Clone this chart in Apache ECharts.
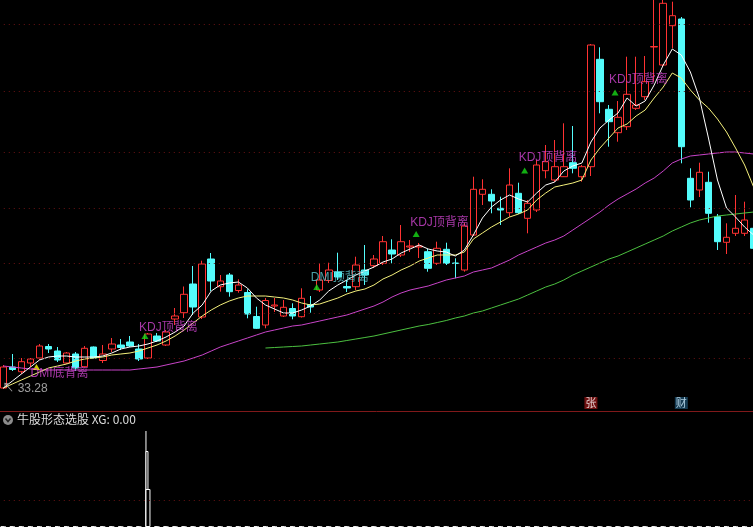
<!DOCTYPE html>
<html><head><meta charset="utf-8">
<script src="https://cdn.jsdelivr.net/npm/echarts@6/dist/echarts.min.js"></script>
<style>html,body{margin:0;padding:0;background:#000;}#c{width:753px;height:527px;}</style>
</head><body><div id="c"></div>
<script>
const days = Array.from({length: 84}, (_, i) => 'D' + (i + 1));
// [open, close, low, high]
const candles = [
[33.38,35.48,33.28,35.68],[35.48,35.23,35.08,36.78],[35.01,36.01,34.78,36.38],[35.88,36.28,35.48,36.38],
[36.38,37.58,36.18,37.78],[37.53,37.28,36.88,37.78],[37.08,36.18,35.98,37.48],[35.88,36.88,35.78,36.98],
[36.78,35.38,35.08,36.98],[35.51,37.35,35.43,37.58],[37.48,36.38,36.33,37.53],[36.13,36.78,35.88,37.68],
[37.28,37.78,36.98,38.38],[37.68,37.43,37.18,38.28],[37.98,37.58,37.48,38.58],[37.28,36.28,36.08,37.78],
[36.38,38.78,36.28,38.88],[38.58,38.08,37.98,38.88],[37.68,38.98,37.58,39.18],[40.28,40.58,39.68,41.38],
[40.91,42.75,40.38,43.53],[43.78,41.48,40.68,45.58],[40.48,45.78,40.28,46.11],[46.28,44.08,43.08,46.88],
[43.51,44.08,43.01,44.68],[44.68,43.01,42.51,44.88],[43.13,43.68,42.91,44.25],[42.93,40.78,40.35,43.25],
[40.53,39.35,39.28,41.51],[39.68,42.13,39.35,42.38],[41.58,41.68,40.98,42.38],[40.58,41.45,40.48,42.18],
[41.33,40.58,40.25,41.85],[40.51,42.35,40.43,43.35],[41.73,41.48,40.91,42.58],[43.18,44.18,42.98,45.88],
[44.13,45.18,43.88,45.91],[44.98,44.48,44.18,46.91],[43.53,43.38,42.98,44.18],[43.51,45.68,43.18,46.51],
[45.18,44.68,43.68,47.68],[45.61,46.28,45.38,46.68],[45.85,48.01,45.68,48.58],[47.18,46.78,45.85,48.25],
[46.68,48.01,46.48,49.68],[47.48,47.58,46.98,48.18],[47.48,47.58,46.38,47.88],[47.01,45.35,45.01,47.28],
[45.85,47.35,45.68,48.01],[47.25,45.85,45.68,47.91],[45.88,45.83,44.35,46.35],[45.18,49.58,45.01,49.91],
[48.68,53.25,48.58,54.51],[52.75,53.25,51.68,54.25],[52.75,52.08,50.85,53.25],[51.35,51.18,49.68,52.51],
[50.91,53.68,50.51,55.35],[52.85,50.91,50.78,53.91],[50.35,51.85,48.85,52.18],[51.18,55.68,50.98,56.18],
[55.11,56.01,54.35,57.68],[54.18,55.51,53.98,58.18],[54.51,55.51,54.48,59.85],[55.91,55.35,54.85,59.58],
[54.51,55.51,54.01,55.68],[55.51,67.68,54.58,67.78],[66.25,62.01,60.85,67.45],[61.25,60.01,57.51,61.68],
[58.91,60.45,58.01,62.08],[59.51,62.75,59.18,66.51],[61.35,61.68,61.18,66.51],[62.51,64.01,62.18,66.58],
[67.48,67.53,64.01,72.68],[65.68,71.85,65.58,72.68],[69.61,70.61,67.35,72.01],[70.28,57.51,55.85,70.48],
[54.35,52.18,51.45,55.35],[53.18,54.95,52.48,55.91],[53.95,50.85,49.91,55.01],[50.51,48.01,47.18,50.78],
[47.95,48.45,46.78,49.85],[48.85,49.35,48.58,52.68],[48.85,50.18,48.58,52.01],[49.35,47.35,46.98,50.18]
];
const maWhite = [33.38,34.08,34.78,35.48,36.18,36.48,36.58,36.58,36.48,36.48,36.48,36.58,36.88,37.28,37.48,37.58,
37.78,38.08,38.48,38.98,39.58,40.88,41.68,43.08,43.68,43.88,43.98,43.38,42.38,41.68,41.28,40.88,40.88,41.18,41.58,
42.18,43.08,43.68,44.18,44.68,45.08,45.48,45.98,46.28,46.88,47.28,47.68,47.28,47.08,46.98,46.58,47.18,48.68,50.38,
51.48,52.18,52.68,52.28,51.98,52.88,53.68,53.98,55.08,55.58,55.88,57.98,59.38,60.18,60.88,62.38,61.58,62.08,63.68,
65.68,67.28,66.68,64.98,62.38,58.38,54.18,51.38,50.48,49.48,48.68];
const maYellow = [33.38,33.78,34.18,34.58,34.98,35.38,35.58,35.78,36.08,36.28,36.38,36.48,36.68,36.78,36.88,37.08,
37.38,37.68,38.08,38.58,39.18,39.88,40.58,41.18,41.68,42.08,42.38,42.58,42.58,42.58,42.48,42.38,42.18,41.88,41.68,
41.78,42.08,42.38,42.78,43.08,43.28,43.68,44.28,44.68,45.18,45.58,46.08,46.38,46.68,46.68,46.68,46.98,48.28,48.88,
49.48,49.98,50.48,50.78,51.18,52.18,52.88,53.48,53.68,53.88,54.18,56.18,57.38,58.38,59.38,59.78,60.58,61.18,62.38,
63.48,64.88,64.38,63.18,62.18,61.38,60.28,58.98,57.38,55.68,53.48];
const maMagenta = [35.58,35.48,35.38,35.28,35.18,35.18,35.18,35.18,35.18,35.18,35.18,35.18,35.18,35.18,35.18,35.28,
35.38,35.48,35.68,35.88,36.08,36.38,36.68,37.08,37.48,37.78,38.08,38.38,38.68,38.98,39.18,39.38,39.58,39.68,39.88,
40.08,40.28,40.48,40.68,40.98,41.28,41.58,41.98,42.48,42.88,43.18,43.38,43.58,43.88,44.18,44.38,44.58,44.98,45.18,
45.38,45.78,46.18,46.68,47.08,47.48,47.88,48.18,48.58,49.18,49.78,50.38,50.98,51.68,52.28,52.78,53.28,53.88,54.38,
55.08,55.88,56.28,56.58,56.68,56.78,56.88,56.98,56.98,56.88,56.78];
const maGreen = [null,null,null,null,null,null,null,null,null,null,null,null,null,null,null,null,null,null,null,null,
null,null,null,null,null,null,null,null,null,
37.38,37.43,37.48,37.53,37.58,37.68,37.78,37.88,37.98,38.13,38.28,38.43,38.58,38.78,38.98,39.18,39.38,39.58,39.73,
39.93,40.13,40.38,40.58,40.88,41.08,41.38,41.68,41.98,42.28,42.68,43.08,43.48,43.78,44.18,44.68,45.08,45.48,45.88,
46.28,46.58,46.98,47.38,47.78,48.18,48.58,49.08,49.48,49.88,50.18,50.38,50.58,50.68,50.78,50.88,50.98];
const gridLevels = [69.78, 63.08, 56.98, 51.38, 45.88, 40.88, 36.38];
const sigIndex = [4, 16, 35, 46, 58, 68];
const sigMarker = [35.48, 38.58, 43.48, 48.78, 55.13, 62.93];
const sigTextAt = [34.78, 39.43, 44.38, 49.93, 56.43, 64.23];
const sigText = ['DMI底背离', 'KDJ顶背离', 'DMI顶背离', 'KDJ顶背离', 'KDJ顶背离', 'KDJ顶背离'];
const tagIndex = [65, 75];
const tagText = ['张', '财'];
const tagLevel = 31.88;
const lowIndex = 0;
const lowValue = 33.28;
const xgIndex = 16;
const xgLevels = [82.76, 65.5, 32.76];
const xgLine = 23.28;

const chart = echarts.init(document.getElementById('c'), null, {renderer: 'canvas'});
const FONT = "'Liberation Sans','Noto Sans CJK SC',sans-serif";
const magenta = '#d045d0';
const sigColor = t => t === 'DMI顶背离' ? '#5cc8d0' : magenta;
const triColor = t => t.indexOf('底') >= 0 ? '#ffff00' : '#16d916';

const option = {
  backgroundColor: '#000',
  animation: false,
  grid: [
    {left: -1.2, top: 0, width: 759.36, height: 411, outerBoundsMode: 'none', containLabel: false},
    {left: -1.2, top: 411, width: 759.36, height: 116, outerBoundsMode: 'none', containLabel: false}
  ],
  xAxis: [
    {type: 'category', data: days, gridIndex: 0, boundaryGap: true,
     axisLine: {show: true, lineStyle: {color: '#80191a', width: 1}}, axisTick: {show: false}, axisLabel: {show: false}, splitLine: {show: false}},
    {type: 'category', data: days, gridIndex: 1, boundaryGap: true, show: false}
  ],
  yAxis: [
    {type: 'value', gridIndex: 0, min: 31.08, max: 72.18, show: false, splitLine: {show: false}},
    {type: 'value', gridIndex: 1, min: 0, max: 100, show: false, splitLine: {show: false}}
  ],
  graphic: [
    {type: 'circle', shape: {cx: 8, cy: 420, r: 5}, style: {fill: '#8c8c8c'}},
    {type: 'polyline', shape: {points: [[5.5, 418.5], [8, 421.5], [10.5, 418.5]]}, style: {stroke: '#202020', lineWidth: 1.5, fill: null}},
    {type: 'text', left: 17, top: 413, style: {text: '牛股形态选股 XG: 0.00', fill: '#dcdcdc', font: "12px 'Noto Sans CJK SC', sans-serif"}}
  ],
  series: [
    {
      type: 'candlestick', xAxisIndex: 0, yAxisIndex: 0, data: candles, barWidth: 7,
      itemStyle: {color: '#000000', color0: '#54fcfc', borderColor: '#ff3232', borderColor0: '#54fcfc', borderWidth: 1},
      markLine: {silent: true, symbol: 'none', label: {show: false},
        lineStyle: {color: '#6a1214', type: [1, 4], width: 1},
        data: gridLevels.map(v => ({yAxis: v}))}
    },
    {type: 'line', data: maMagenta, symbol: 'none', lineStyle: {color: '#c844c8', width: 1}, z: 3},
    {type: 'line', data: maGreen, symbol: 'none', lineStyle: {color: '#4cc040', width: 1}, z: 3},
    {type: 'line', data: maYellow, symbol: 'none', lineStyle: {color: '#f4f07c', width: 1}, z: 3},
    {type: 'line', data: maWhite, symbol: 'none', lineStyle: {color: '#ffffff', width: 1}, z: 4},
    {type: 'scatter', symbol: 'triangle', symbolSize: [7, 6], symbolOffset: [-3, 0], z: 5,
     data: sigIndex.map((d, k) => ({value: [d, sigMarker[k]], itemStyle: {color: triColor(sigText[k])}}))},
    {type: 'scatter', symbolSize: 0, z: 6,
     data: sigIndex.map((d, k) => ({value: [d, sigTextAt[k]],
       label: {show: true, position: 'right', distance: 0, offset: [-9, 0], formatter: sigText[k],
         color: sigColor(sigText[k]), fontSize: 12, fontFamily: FONT}}))},
    {type: 'scatter', symbolSize: 0, z: 6,
     data: [{value: [lowIndex, lowValue], label: {show: true, position: 'right', distance: 0, offset: [-1, 0],
       formatter: '↖ ' + lowValue.toFixed(2), color: '#c4c4c4', fontSize: 12, fontFamily: FONT}}]},
    {type: 'scatter', symbol: 'rect', symbolSize: [13, 12], z: 6,
     data: tagIndex.map((d, k) => ({value: [d, tagLevel],
       itemStyle: {color: k === 0 ? '#8a1414' : '#1b4a66'},
       label: {show: true, position: 'inside', formatter: tagText[k], color: k === 0 ? '#ffffff' : '#cfeeff', fontSize: 11, fontFamily: "'Noto Sans CJK SC',sans-serif"}}))},
    {type: 'bar', xAxisIndex: 1, yAxisIndex: 1, barWidth: 1, barGap: '-100%',
     data: days.map((d, i) => i === xgIndex ? xgLevels[0] : 0),
     itemStyle: {color: '#ffffff'},
     markLine: {silent: true, symbol: 'none', label: {show: false},
       lineStyle: {color: '#6a1214', type: [1, 4], width: 1}, data: [{yAxis: xgLine}]}},
    {type: 'bar', xAxisIndex: 1, yAxisIndex: 1, barWidth: 3, barGap: '-100%',
     data: days.map((d, i) => i === xgIndex ? xgLevels[1] : 0),
     itemStyle: {color: '#000000', borderColor: '#ffffff', borderWidth: 1}},
    {type: 'bar', xAxisIndex: 1, yAxisIndex: 1, barWidth: 5, barGap: '-100%',
     data: days.map((d, i) => i === xgIndex ? xgLevels[2] : 0),
     itemStyle: {color: '#000000', borderColor: '#ffffff', borderWidth: 1}}
  ]
};
chart.setOption(option);
</script></body></html>
